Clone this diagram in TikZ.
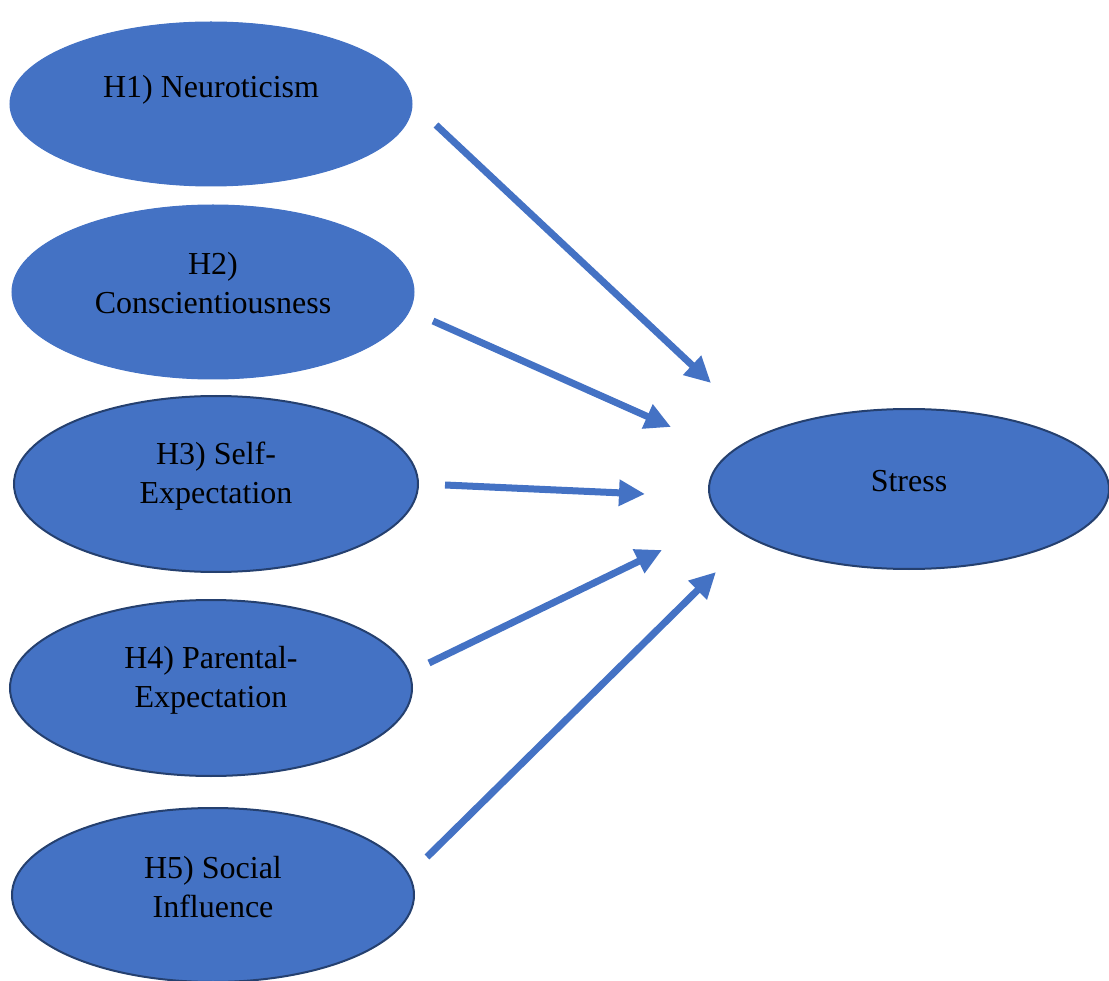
\documentclass[tikz,border=0pt]{standalone}
\usepackage{fontspec}
\setmainfont{Liberation Serif}
\usetikzlibrary{arrows.meta,shapes.geometric}
\definecolor{fillblue}{HTML}{4472C4}
\definecolor{edgeblue}{HTML}{25406F}
\tikzset{
  oval/.style={ellipse, fill=fillblue, draw=fillblue, line width=1pt, inner sep=0pt},
  ovalb/.style={oval, draw=edgeblue, line width=2pt},
  lbl/.style={font=\fontsize{32}{39}\selectfont, align=center, text=black, inner sep=0pt},
  conn/.style={draw=fillblue, line width=7pt, -{Triangle[length=26pt,width=25pt]}}
}
\begin{document}
\begin{tikzpicture}[x=1pt,y=-1pt]
\useasboundingbox (0,0) rectangle (1109,981);
\node[oval, minimum width=402pt, minimum height=164pt] (e1) at (211,104) {};
\node[oval, minimum width=402pt, minimum height=174pt] (e2) at (213,292) {};
\node[ovalb, minimum width=404pt, minimum height=176pt] (e3) at (216,484) {};
\node[ovalb, minimum width=402pt, minimum height=176pt] (e4) at (211,688) {};
\node[ovalb, minimum width=402pt, minimum height=174pt] (e5) at (213,895) {};
\node[ovalb, minimum width=400pt, minimum height=160pt] (es) at (909,489) {};
\node[lbl] (t1) at (211,90) {H1) Neuroticism};
\node[lbl] (t2) at (213,283) {H2)\\Conscientiousness};
\node[lbl] (t3) at (216,476) {H3) Self-\\Expectation};
\node[lbl] (t4) at (211,680) {H4) Parental-\\Expectation};
\node[lbl] (t5) at (213,887) {H5) Social\\Influence};
\node[lbl] (ts) at (909,481) {Stress};
\coordinate (a1s) at (436,125); \coordinate (a1e) at (711,383);
\coordinate (a2s) at (433,321); \coordinate (a2e) at (671,427);
\coordinate (a3s) at (445,485); \coordinate (a3e) at (645,494);
\coordinate (a4s) at (429,663); \coordinate (a4e) at (662,550);
\coordinate (a5s) at (427,857); \coordinate (a5e) at (716,572);
\draw[conn] (a1s) -- (a1e);
\draw[conn] (a2s) -- (a2e);
\draw[conn] (a3s) -- (a3e);
\draw[conn] (a4s) -- (a4e);
\draw[conn] (a5s) -- (a5e);
\end{tikzpicture}
\end{document}
